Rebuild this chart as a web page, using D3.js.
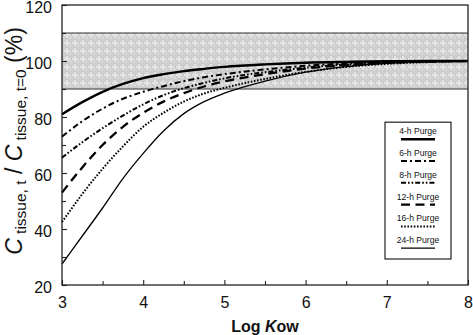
<!DOCTYPE html>
<html>
<head>
<meta charset="utf-8">
<script src="https://cdn.jsdelivr.net/npm/d3@7"></script>
<style>
  html, body { margin: 0; padding: 0; background: #fff; }
  svg { display: block; font-family: "Liberation Sans", Arial, Helvetica, sans-serif; }
</style>
</head>
<body>
<svg id="chart" width="473" height="335"></svg>
<script>
// ---- Data ----
const logKow   = [3, 3.25, 3.5, 3.75, 4, 4.25, 4.5, 4.75, 5, 5.5, 6, 6.5, 7, 7.5, 8];
const purge4h  = [81, 85.3, 89, 91.8, 93.9, 95.3, 96.4, 97.2, 97.9, 98.8, 99.4, 99.7, 99.9, 100, 100];
const purge6h  = [73, 78.5, 83, 86.5, 89, 91, 92.8, 94.2, 95.3, 97, 98.3, 99.1, 99.6, 99.9, 100];
const purge8h  = [65.5, 71, 76, 80.5, 84.5, 87.8, 90.3, 92.2, 93.8, 96, 97.6, 98.7, 99.4, 99.8, 100];
const purge12h = [53, 62, 70, 76.5, 81.5, 85.5, 88.5, 90.9, 92.7, 95.3, 97.3, 98.6, 99.4, 99.8, 100];
const purge16h = [42.5, 52.5, 61.5, 69.5, 76.5, 81.5, 85.5, 88.4, 90.4, 93.6, 96.1, 97.9, 99, 99.6, 100];
const purge24h = [27.5, 37.5, 47.5, 58, 67, 75, 81.2, 85.5, 88.5, 92.8, 96, 98, 99.2, 99.8, 100];
const seriesNames = ["4-h Purge", "6-h Purge", "8-h Purge", "12-h Purge", "16-h Purge", "24-h Purge"];
const bandRange = [90, 110];
const xTicks = [3, 4, 5, 6, 7, 8];
const yTicks = [20, 40, 60, 80, 100, 120];

const seriesValues = [purge4h, purge6h, purge8h, purge12h, purge16h, purge24h];
const styles = [
  { w: 2.4, dash: null },
  { w: 2.0, dash: "6,3,2,3" },
  { w: 2.0, dash: "5,2,1.6,2,1.6,2" },
  { w: 2.3, dash: "9,5.5" },
  { w: 2.0, dash: "1.6,1.6" },
  { w: 1.3, dash: null }
];

const svg = d3.select("#chart");
const L = 62, R = 468, T = 5, B = 285;
const x = d3.scaleLinear().domain([3, 8]).range([L, R]);
const y = d3.scaleLinear().domain([20, 120]).range([B, T]);

// pattern for the shaded band
const defs = svg.append("defs");
const pat = defs.append("pattern").attr("id", "mottle").attr("patternUnits", "userSpaceOnUse")
  .attr("width", 8).attr("height", 8);
pat.append("rect").attr("width", 8).attr("height", 8).attr("fill", "#cdcdcd");
pat.append("path").attr("d", "M2,0h2v2h2v2h-2v2h-2v-2h-2v-2h2z").attr("fill", "#e4e4e4");
pat.append("path").attr("d", "M6,4h1v1h1v1h-1v1h-1v-1h-1v-1h1z").attr("fill", "#dedede");

svg.append("rect")
  .attr("x", L).attr("y", y(bandRange[1]))
  .attr("width", R - L).attr("height", y(bandRange[0]) - y(bandRange[1]))
  .attr("fill", "url(#mottle)");
bandRange.forEach(v => {
  svg.append("line").attr("x1", L).attr("x2", R).attr("y1", y(v)).attr("y2", y(v))
    .attr("stroke", "#333").attr("stroke-width", 1);
});

// curves
const line = d3.line().x(d => x(d[0])).y(d => y(d[1])).curve(d3.curveMonotoneX);
const g = svg.append("g");
seriesValues.forEach((vals, i) => {
  const pts = logKow.map((k, j) => [k, vals[j]]);
  g.append("path").datum(pts).attr("d", line)
    .attr("fill", "none").attr("stroke", "#000")
    .attr("stroke-width", styles[i].w)
    .attr("stroke-dasharray", styles[i].dash);
});

// frame
svg.append("rect").attr("x", L).attr("y", T).attr("width", R - L).attr("height", B - T)
  .attr("fill", "none").attr("stroke", "#222").attr("stroke-width", 1.3);

// axes (ticks inward)
const xAxis = d3.axisBottom(x).tickValues(xTicks).tickSize(-5).tickPadding(13).tickFormat(d3.format("d"));
const xg = svg.append("g").attr("transform", `translate(0,${B})`).call(xAxis);
const xMinor = d3.axisBottom(x).tickValues(d3.range(3.5, 8, 1)).tickSize(-4).tickFormat("");
svg.append("g").attr("transform", `translate(0,${B})`).call(xMinor);

const yAxis = d3.axisLeft(y).tickValues(yTicks).tickSize(-5).tickPadding(10).tickFormat(d3.format("d"));
const yg = svg.append("g").attr("transform", `translate(${L},0)`).call(yAxis);
const yMinor = d3.axisLeft(y).tickValues(d3.range(30, 120, 20)).tickSize(-4).tickFormat("");
svg.append("g").attr("transform", `translate(${L},0)`).call(yMinor);

svg.selectAll(".domain").remove();
svg.selectAll(".tick line").attr("stroke", "#222").attr("stroke-width", 1.1);
svg.selectAll(".tick text").attr("font-size", 16).attr("fill", "#111")
  .attr("font-family", '"Liberation Sans", Arial, sans-serif');
yg.selectAll(".tick text").attr("dy", "0.48em");
xg.selectAll(".tick text").attr("dy", "0.6em");

// x-axis title
const xt = svg.append("text").attr("x", (L + R) / 2).attr("y", 332)
  .attr("text-anchor", "middle").attr("font-size", 16).attr("font-weight", "bold").attr("fill", "#111");
xt.append("tspan").text("Log ");
xt.append("tspan").attr("font-style", "italic").text("K");
xt.append("tspan").text("ow");

// y-axis title
const yt = svg.append("text").attr("transform", "translate(22,141) rotate(-90)")
  .attr("text-anchor", "middle").attr("fill", "#111").attr("font-size", 23);
yt.append("tspan").attr("font-style", "italic").text("C");
yt.append("tspan").attr("font-size", 15.5).attr("dy", 4).text(" tissue, t");
yt.append("tspan").attr("dy", -4).text(" / ");
yt.append("tspan").attr("font-style", "italic").text("C");
yt.append("tspan").attr("font-size", 15.5).attr("dy", 4).text(" tissue, t=0");
yt.append("tspan").attr("dy", -4).text(" (%)");

// legend
const lgX = 385, lgW = 66, lgB = 259, rowH = 21.8;
const lgTop = lgB - rowH * seriesNames.length - 6;
svg.append("rect").attr("x", lgX).attr("y", lgTop).attr("width", lgW).attr("height", lgB - lgTop)
  .attr("fill", "#fff").attr("stroke", "#222").attr("stroke-width", 1.2);
seriesNames.forEach((name, i) => {
  const cy = lgTop + 9 + i * rowH;
  const cx = lgX + lgW / 2;
  svg.append("text").attr("x", cx).attr("y", cy + 3).attr("text-anchor", "middle")
    .attr("font-size", 8.6).attr("fill", "#111").text(name);
  svg.append("line").attr("x1", cx - 17).attr("x2", cx + 17).attr("y1", cy + 8).attr("y2", cy + 8)
    .attr("stroke", "#000").attr("stroke-width", styles[i].w)
    .attr("stroke-dasharray", styles[i].dash);
});
</script>
</body>
</html>
